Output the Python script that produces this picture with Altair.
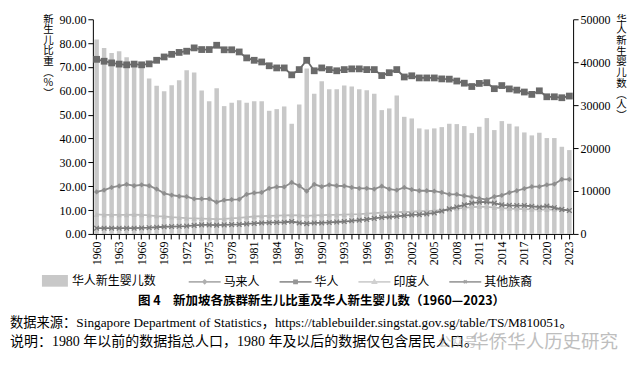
import altair as alt
import pandas as pd

# ---------------- data ----------------
years = list(range(1960, 2024))

chinese_births = [
    45280, 43330, 42170, 42560, 41160, 40000, 39500, 36200, 34490, 33260,
    34650, 35810, 38140, 37600, 33420, 30930, 33950, 29770, 30530, 31160,
    30530, 30930, 30930, 28680, 29070, 29690, 25660, 30150, 38530, 32640,
    35580, 33720, 33720, 34570, 34340, 33720, 33490, 32640, 28840, 29230,
    32250, 27280, 26900, 24580, 24340, 24580, 24880, 25660, 25580, 25120,
    23490, 24960, 26980, 24190, 26280, 25660, 25040, 23640, 22950, 23570,
    22330, 22330, 20300, 19530,
]

chinese_pct = [
    73.2, 72.4, 71.7, 71.2, 70.9, 71.2, 70.9, 71.3, 72.8, 74.2,
    75.3, 76.1, 76.6, 78.0, 77.3, 77.3, 79.1, 77.2, 77.2, 76.3,
    73.8, 72.8, 72.1, 70.5, 69.6, 69.6, 66.7, 68.9, 72.8, 68.4,
    69.6, 68.9, 68.4, 68.9, 69.2, 69.2, 68.9, 68.9, 66.4, 67.6,
    68.9, 65.8, 66.3, 65.4, 65.4, 65.4, 65.0, 64.9, 64.1, 63.2,
    61.8, 63.1, 63.4, 60.9, 62.2, 60.8, 60.3, 59.5, 58.5, 60.0,
    57.5, 57.5, 57.1, 57.8,
]

malay_pct = [
    17.6, 18.4, 19.5, 20.1, 20.8, 20.2, 20.6, 20.2, 18.8, 17.0,
    16.3, 15.8, 15.6, 14.7, 14.7, 14.7, 13.3, 14.2, 14.4, 14.5,
    16.6, 17.2, 17.4, 19.1, 19.7, 19.7, 21.6, 20.2, 17.9, 20.8,
    19.8, 20.6, 20.2, 20.1, 19.5, 19.1, 19.1, 18.8, 20.0, 18.8,
    18.4, 19.5, 18.6, 18.1, 18.1, 17.9, 17.4, 16.6, 16.6, 16.0,
    15.5, 14.9, 14.4, 15.6, 16.2, 17.3, 18.1, 19.0, 19.8, 19.8,
    20.6, 20.9, 22.9, 22.9,
]

indian_pct = [
    8.2, 8.0, 8.0, 8.0, 8.0, 8.1, 8.0, 7.8, 7.5, 7.3,
    7.0, 6.8, 6.6, 6.5, 6.4, 6.3, 6.2, 6.3, 6.5, 6.7,
    7.0, 7.3, 7.5, 7.6, 7.7, 7.8, 7.9, 7.8, 7.6, 7.8,
    7.9, 8.0, 8.0, 8.1, 8.2, 8.3, 8.5, 8.7, 8.9, 9.0,
    9.1, 9.2, 9.3, 9.5, 9.6, 9.8, 10.0, 10.3, 10.6, 10.9,
    11.2, 11.4, 11.3, 11.0, 10.8, 10.6, 10.5, 10.4, 10.3, 10.2,
    10.2, 10.3, 10.1, 9.9,
]

other_pct = [
    2.4, 2.4, 2.4, 2.4, 2.4, 2.4, 2.5, 2.6, 2.8, 3.0,
    3.1, 3.2, 3.3, 3.6, 3.8, 3.8, 3.7, 3.8, 3.9, 4.0,
    4.2, 4.4, 4.6, 4.7, 4.8, 4.9, 5.2, 4.6, 4.3, 4.6,
    4.6, 4.8, 5.0, 5.2, 5.5, 5.8, 6.1, 6.5, 6.9, 7.1,
    7.4, 7.7, 8.0, 8.1, 8.4, 8.8, 9.6, 10.5, 11.3, 12.2,
    12.9, 13.3, 13.4, 12.9, 12.2, 12.0, 11.9, 11.9, 11.6, 11.2,
    11.7, 11.0, 10.3, 9.8,
]

series_names = ["马来人", "华人", "印度人", "其他族裔"]
bar_label = "华人新生婴儿数"
left_title = ["新", "生", "儿", "比", "重", "︵", "%", "︶"]
right_title = ["华", "人", "新", "生", "婴", "儿", "数", "︵", "人", "︶"]
fig_title = "图 4　新加坡各族群新生儿比重及华人新生婴儿数（1960—2023）"
note_source = "数据来源：Singapore Department of Statistics，https://tablebuilder.singstat.gov.sg/table/TS/M810051。"
note_desc = "说明：1980 年以前的数据指总人口，1980 年及以后的数据仅包含居民人口。"
watermark_a = "公众号"
watermark_b = "华侨华人历史研究"

# ---------------- styling ----------------
W, H = 481, 215
SERIF = "Liberation Serif"
CJK = "Noto Sans CJK SC"
MIXED = "Liberation Serif, Noto Sans CJK SC"

series_style = {
    "马来人": dict(color="#8e8e8e", shape="diamond", size=28, filled=True),
    "华人": dict(color="#6a6a6a", shape="square", size=46, filled=True),
    "印度人": dict(color="#bdbdbd", shape="triangle-up", size=28, filled=True),
    "其他族裔": dict(color="#7a7a7a", shape="M-1,-1L1,1M-1,1L1,-1", size=22, filled=False),
}
legend_paths = [
    "M-1,0H1M0,-0.11L0.11,0L0,0.11L-0.11,0Z",
    "M-1,0H1M-0.1,-0.1H0.1V0.1H-0.1Z",
    "M-1,0H1M0,-0.12L0.12,0.09H-0.12Z",
    "M-1,0H1M-0.09,-0.09L0.09,0.09M-0.09,0.09L0.09,-0.09",
]

bar_df = pd.DataFrame({"year": years, "births": chinese_births, "label": bar_label})
pct_values = {"马来人": malay_pct, "华人": chinese_pct, "印度人": indian_pct, "其他族裔": other_pct}
pct_df = pd.concat(
    [pd.DataFrame({"year": years, "series": s, "pct": pct_values[s]}) for s in series_names],
    ignore_index=True,
)

x_axis = alt.Axis(
    orient="bottom", title=None, labelAngle=-90, labelFont=SERIF, labelFontSize=12,
    labelExpr="(datum.value - 1960) % 3 == 0 ? datum.label : ''",
    labelOverlap=False, tickSize=5, bandPosition=0.5, labelPadding=2,
)
x_scale = alt.Scale(paddingInner=0.4, paddingOuter=0.2)

left_axis = alt.Axis(
    orient="left", values=list(range(0, 91, 10)), format=".2f", tickSize=5,
    labelFont=SERIF, labelFontSize=12, labelPadding=2,
    title=left_title, titleAngle=0, titleFont=CJK, titleFontSize=10.5,
    titleFontWeight="normal", titleLineHeight=10.6, titleX=-45, titleY=-5,
    titleAlign="center", titleBaseline="top", grid=False,
)
right_axis = alt.Axis(
    orient="right", values=list(range(0, 50001, 10000)), format="d", tickSize=5,
    labelFont=SERIF, labelFontSize=12, labelPadding=2,
    title=right_title, titleAngle=0, titleFont=CJK, titleFontSize=10.5,
    titleFontWeight="normal", titleLineHeight=10.7, titleX=48, titleY=-5,
    titleAlign="center", titleBaseline="top", grid=False,
)

bars = alt.Chart(bar_df).mark_bar().encode(
    x=alt.X("year:O", scale=x_scale, axis=x_axis),
    y=alt.Y("births:Q", scale=alt.Scale(domain=[0, 50000]), axis=right_axis),
    color=alt.Color(
        "label:N",
        scale=alt.Scale(domain=[bar_label], range=["#c8c8c8"]),
        legend=alt.Legend(
            orient="none", legendX=-51, legendY=249, title=None,
            symbolType="M-1,-0.45H1V0.45H-1Z", symbolSize=676, symbolStrokeWidth=0,
            labelFont=CJK, labelFontSize=12, labelOffset=4, labelColor="black",
        ),
    ),
)

x_line = alt.X("year:O", scale=x_scale, axis=x_axis, bandPosition=0.5)
y_line = alt.Y("pct:Q", scale=alt.Scale(domain=[0, 90]), axis=left_axis)

draw_order = ["印度人", "其他族裔", "马来人", "华人"]
layers = []
for s in draw_order:
    st = series_style[s]
    sub = alt.Chart(pct_df).transform_filter(alt.datum.series == s)
    layers.append(
        sub.mark_line(color=st["color"], strokeWidth=1.8).encode(x=x_line, y=y_line)
    )
    layers.append(
        sub.mark_point(
            shape=st["shape"], size=st["size"], filled=st["filled"],
            color=st["color"], opacity=1, strokeWidth=1.3,
        ).encode(x=x_line, y=y_line)
    )

line_legend = alt.Legend(
    orient="none", legendX=95, legendY=246, title=None, direction="horizontal",
    symbolSize=1024, symbolStrokeWidth=1.6, labelFont=CJK, labelFontSize=12,
    labelOffset=2, columnPadding=15, labelColor="black",
)
colors = [series_style[s]["color"] for s in series_names]
legend_layer = alt.Chart(pct_df).transform_filter("false").mark_point(filled=True).encode(
    fill=alt.Fill("series:N", scale=alt.Scale(domain=series_names, range=colors), legend=line_legend),
    stroke=alt.Stroke("series:N", scale=alt.Scale(domain=series_names, range=colors), legend=line_legend),
    shape=alt.Shape("series:N", scale=alt.Scale(domain=series_names, range=legend_paths), legend=line_legend),
)
layers.append(legend_layer)

text_df = pd.DataFrame({"t": [0]})
txt = alt.Chart(text_df)
layers.append(txt.mark_text(text=fig_title, font=CJK, fontSize=12.5, fontWeight="bold",
                            align="center", baseline="middle", color="black")
              .encode(x=alt.value(229), y=alt.value(282)))
layers.append(txt.mark_text(text=note_source, font=MIXED, fontSize=13.3,
                            align="left", baseline="middle", color="black")
              .encode(x=alt.value(-83), y=alt.value(304)))
layers.append(txt.mark_text(text=note_desc, font=MIXED, fontSize=14,
                            align="left", baseline="middle", color="black")
              .encode(x=alt.value(-83), y=alt.value(323)))
layers.append(txt.mark_text(text=watermark_a, font=CJK, fontSize=13,
                            align="left", baseline="middle", color="#a0a0a0", opacity=0.55)
              .encode(x=alt.value(346), y=alt.value(323)))
layers.append(txt.mark_text(text=watermark_b, font=CJK, fontSize=18.5,
                            align="left", baseline="middle", color="#b8b8b8", opacity=0.9)
              .encode(x=alt.value(378), y=alt.value(323)))

inner = alt.layer(*layers)

chart = (
    alt.layer(bars, inner)
    .resolve_scale(y="independent")
    .properties(
        width=W, height=H,
        autosize=alt.AutoSizeParams(type="none"),
        padding={"left": 85, "top": 11, "right": 60, "bottom": 130},
        background="white",
    )
    .configure_view(stroke=None)
    .configure_axis(labelColor="black", tickColor="black", domainColor="black",
                    titleColor="black", grid=False)
)

chart.save("out.html", embed_options={"renderer": "svg", "actions": False})
